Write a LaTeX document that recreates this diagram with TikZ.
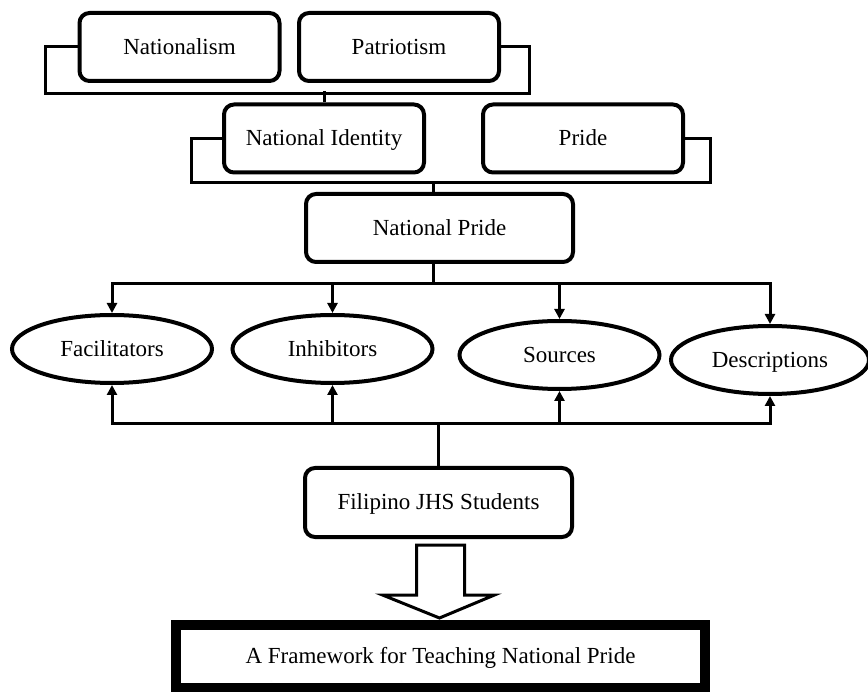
\documentclass[tikz,border=0pt]{standalone}
\usepackage{fontspec}
\setmainfont{Liberation Serif}
\usetikzlibrary{shapes.geometric, arrows.meta, calc}

\begin{document}
\begin{tikzpicture}[
    x=1pt, y=-1pt,
    rbox/.style={rectangle, draw, line width=4pt, rounded corners=10pt, align=center,
                 inner sep=0pt, minimum width=200pt, minimum height=68pt,
                 text height=20pt, text depth=5pt,
                 font=\fontsize{23}{27}\selectfont},
    oval/.style={ellipse, draw, line width=4pt, inner sep=0pt,
                 minimum width=200pt, minimum height=68pt,
                 text height=20pt, text depth=5pt,
                 font=\fontsize{23}{27}\selectfont},
    link/.style={line width=3pt, line join=miter},
    arr/.style={link, -{Triangle[length=10pt, width=10pt]}},
    hollow/.style={line width=3pt, line join=miter, fill=white},
    frm/.style={rectangle, draw, line width=10pt, inner sep=0pt,
                minimum width=529pt, minimum height=63.5pt,
                text height=20pt, text depth=5pt,
                font=\fontsize{23}{27}\selectfont},
]
\useasboundingbox (0,0) rectangle (868,692);

% Level 1: concepts
\node[rbox] (natl) at (179.5,47) {Nationalism};
\node[rbox] (patr) at (399,47)   {Patriotism};

% Level 2
\node[rbox] (ident) at (324,138.5) {National Identity};
\node[rbox] (pride) at (583,138.5) {Pride};

% Level 3
\node[rbox, minimum width=267pt] (npride) at (439.5,228) {National Pride};

% Themes
\node[oval] (facil) at (112,349)   {Facilitators};
\node[oval] (inhib) at (332.5,349) {Inhibitors};
\node[oval] (src)   at (559.5,355) {Sources};
\node[oval, minimum width=198pt] (desc) at (770,360) {Descriptions};

% Participants and output
\node[rbox, minimum width=267pt, minimum height=69pt] (fil) at (438.5,502.5) {Filipino JHS Students};
\node[frm] (frame) at (440.5,656.25) {A Framework for Teaching National Pride};

% Brackets
\draw[link] (natl.west) -- ++(-32,0) -- ++(0,47) -- ++(484,0) -- ++(0,-47) -- (patr.east);
\draw[link] (ident.north) -- ++(0,-11);
\draw[link] (ident.west) -- ++(-31,0) -- ++(0,44.5) -- ++(519,0) -- ++(0,-44.5) -- (pride.east);
\draw[link] ([xshift=-6pt]npride.north) -- ++(0,-11);

% Arrows to themes
\draw[link] ([xshift=-6pt]npride.south) -- ++(0,20) coordinate (hub);
\foreach \n in {facil, inhib, src, desc}
    \draw[arr] (hub) -| (\n.north);

\draw[link] (fil.north) -- ++(0,-42) coordinate (base);
\foreach \n in {facil, inhib, src, desc}
    \draw[arr] (base) -| (\n.south);

% Block arrow
\draw[hollow] (fil.south) ++(-22,6) -- ++(48,0) -- ++(0,50) -- ++(30,0)
    -- ++(-55,23) -- ++(-57,-23) -- ++(34,0) -- cycle;
\end{tikzpicture}
\end{document}
